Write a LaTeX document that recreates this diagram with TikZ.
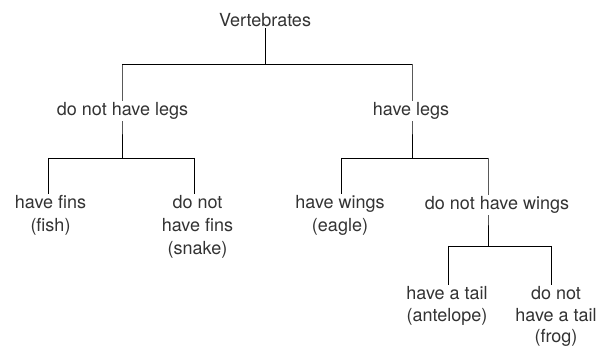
\documentclass[tikz,border=0pt]{standalone}
\usepackage{fontspec}
\setmainfont{TeX Gyre Heros}
\usetikzlibrary{backgrounds}

\begin{document}
\begin{tikzpicture}[x=1pt, y=1pt,
    label/.style={fill=white, inner sep=1.5pt, text=black!80,
      font=\fontsize{18}{23}\selectfont, align=center},
    leaf/.style={label, anchor=north},
    lowleaf/.style={leaf, font=\fontsize{18}{21.5}\selectfont},
    branch/.style={black, line width=1.2pt}]
  \useasboundingbox (0,0) rectangle (606,-352);

  %% ── Tree nodes ───────────────────────────────────────────
  \node[label] (vert)    at (265,-20)   {Vertebrates};
  \node[label] (nolegs)  at (122.5,-111) {do not have legs};
  \node[label] (legs)    at (411,-111)  {have legs};
  \node[leaf]  (fins)    at (50.5,-194) {have fins\\(fish)};
  \node[leaf]  (nofins)  at (197.5,-194) {do not\\have fins\\(snake)};
  \node[leaf]  (wings)   at (340,-194)  {have wings\\(eagle)};
  \node[label] (nowings) at (497,-205)  {do not have wings};
  \node[lowleaf] (tail)   at (447,-285) {have a tail\\(antelope)};
  \node[lowleaf] (notail) at (556,-285) {do not\\have a tail\\(frog)};

  %% ── Bar ends (x of each vertical) ───────────────────────
  \coordinate (b1l) at (122,-64);  \coordinate (b1r) at (412,-64);
  \coordinate (b2l) at (48,-158);  \coordinate (b2r) at (194,-158);
  \coordinate (b3l) at (341,-158); \coordinate (b3r) at (488,-158);
  \coordinate (b4l) at (448,-246); \coordinate (b4r) at (551,-246);

  %% ── Connectors (behind the white node boxes) ────────────
  \begin{scope}[on background layer, branch]
    \draw (vert) -- (vert |- b1l);
    \draw (b1l) -- (b1r);
    \draw (b1l) -- (b1l |- nolegs) -- (b1l |- b2l);
    \draw (b1r) -- (b1r |- legs) -- (b1r |- b3l);
    \draw (b2l) -- (b2r);
    \draw (b2l) -- (b2l |- fins.north);
    \draw (b2r) -- (b2r |- nofins.north);
    \draw (b3l) -- (b3r);
    \draw (b3l) -- (b3l |- wings.north);
    \draw (b3r) -- (b3r |- nowings) -- (b3r |- b4l);
    \draw (b4l) -- (b4r);
    \draw (b4l) -- (b4l |- tail.north);
    \draw (b4r) -- (b4r |- notail.north);
  \end{scope}
\end{tikzpicture}
\end{document}
